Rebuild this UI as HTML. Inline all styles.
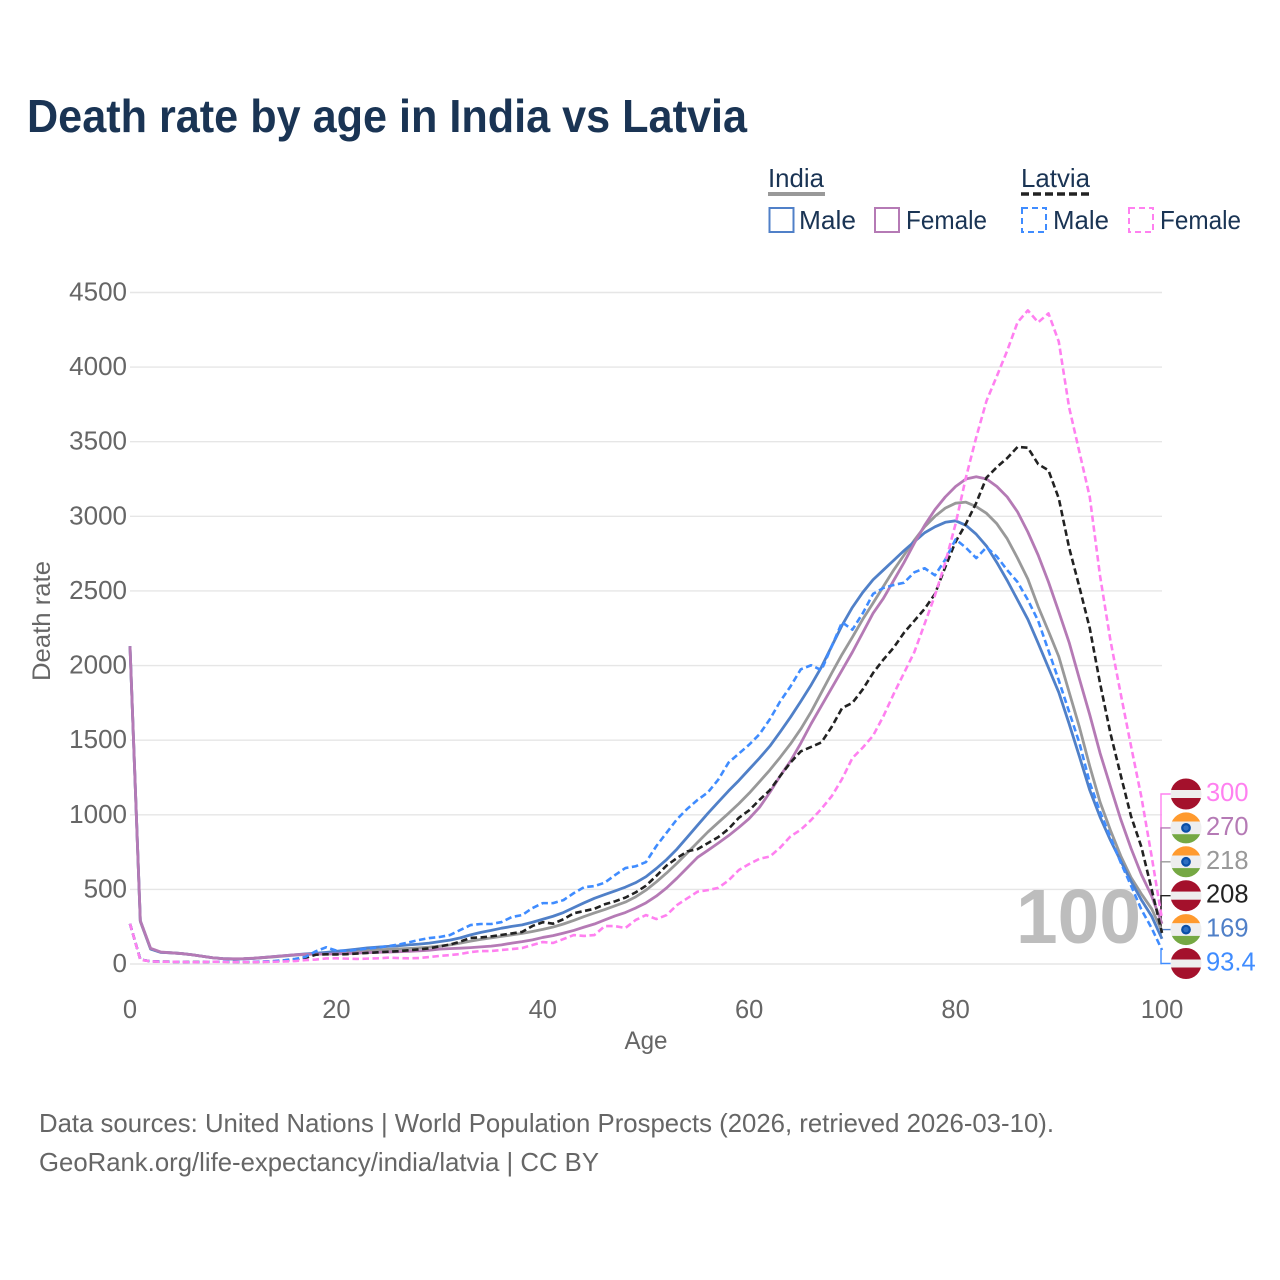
<!DOCTYPE html>
<html lang="en">
<head>
<meta charset="utf-8">
<title>Death rate by age in India vs Latvia</title>
<style>
html,body{margin:0;padding:0;background:#fff;}
svg{display:block;}
text{font-family:"Liberation Sans",sans-serif;}
</style>
</head>
<body>
<svg id="chart" xmlns="http://www.w3.org/2000/svg" width="1280" height="1280" viewBox="0 0 1280 1280">
  <defs>
    <clipPath id="flag-clip"><circle cx="0" cy="0" r="15.5"/></clipPath>
  </defs>
  <rect x="0" y="0" width="1280" height="1280" fill="#fff"/>
  <text x="27" y="132" font-size="46" font-weight="700" fill="#1a3454" textLength="720" lengthAdjust="spacingAndGlyphs">Death rate by age in India vs Latvia</text>

  <g fill="#1a3454" font-size="26">
    <text x="768" y="187" textLength="56" lengthAdjust="spacingAndGlyphs">India</text>
    <line x1="768" x2="825" y1="194" y2="194" stroke="#999" stroke-width="4"/>
    <text x="1021" y="187" textLength="69" lengthAdjust="spacingAndGlyphs">Latvia</text>
    <line x1="1021" x2="1090" y1="194" y2="194" stroke="#222" stroke-width="3.5" stroke-dasharray="8 4"/>
    <rect x="769.5" y="208" width="24" height="24" fill="none" stroke="#5080c8" stroke-width="2"/>
    <text x="799" y="229" textLength="57" lengthAdjust="spacingAndGlyphs">Male</text>
    <rect x="875" y="208" width="24" height="24" fill="none" stroke="#b57ab5" stroke-width="2"/>
    <text x="906" y="229" textLength="81" lengthAdjust="spacingAndGlyphs">Female</text>
    <rect x="1022" y="208" width="24" height="24" fill="none" stroke="#3f8cff" stroke-width="2" stroke-dasharray="6 4"/>
    <text x="1053" y="229" textLength="56" lengthAdjust="spacingAndGlyphs">Male</text>
    <rect x="1129" y="208" width="24" height="24" fill="none" stroke="#ff80f0" stroke-width="2" stroke-dasharray="6 4"/>
    <text x="1160" y="229" textLength="81" lengthAdjust="spacingAndGlyphs">Female</text>
  </g>

  <g id="grid"></g>
  <g id="y-ticks"></g>
  <g id="x-ticks"></g>
  <text transform="translate(50,621) rotate(-90)" text-anchor="middle" font-size="25" fill="#666" textLength="120" lengthAdjust="spacingAndGlyphs">Death rate</text>
  <text x="646" y="1049" text-anchor="middle" font-size="25" fill="#666" textLength="43" lengthAdjust="spacingAndGlyphs">Age</text>

  <text x="1016" y="943" font-size="77" font-weight="700" fill="#bdbdbd" textLength="125" lengthAdjust="spacingAndGlyphs">100</text>

  <g id="connectors"></g>
  <g id="series"></g>
  <g id="end-labels"></g>

  <text x="39" y="1132" font-size="26" fill="#666" textLength="1015" lengthAdjust="spacingAndGlyphs">Data sources: United Nations | World Population Prospects (2026, retrieved 2026-03-10).</text>
  <text x="39" y="1171" font-size="26" fill="#666" textLength="560" lengthAdjust="spacingAndGlyphs">GeoRank.org/life-expectancy/india/latvia | CC BY</text>
</svg>

<script>
var yTickValues = [0,500,1000,1500,2000,2500,3000,3500,4000,4500];
var xTickValues = [0,20,40,60,80,100];

var indiaMale = [2130,290,100,78,75,70,62,52,42,36,
34,35,38,44,50,56,62,68,72,78,
85,92,100,108,113,118,122,128,133,140,
150,160,175,195,212,225,240,252,262,280,
300,320,345,378,410,440,465,490,515,545,
585,640,700,770,850,930,1010,1085,1160,1230,
1305,1380,1460,1555,1654,1760,1870,1990,2130,2270,
2390,2490,2575,2640,2705,2770,2830,2890,2930,2960,
2970,2940,2880,2800,2690,2570,2440,2310,2150,1985,
1820,1610,1390,1165,985,830,690,555,430,320,
169];

var indiaTotal = [2130,285,100,78,75,70,62,52,42,36,
34,35,38,43,48,54,60,64,68,72,
76,81,86,91,95,98,101,104,108,113,
120,128,140,153,165,175,185,195,205,218,
232,248,268,292,318,342,365,390,415,450,
495,550,610,675,745,815,885,948,1010,1075,
1145,1222,1300,1385,1475,1575,1690,1820,1950,2075,
2190,2310,2418,2530,2640,2740,2840,2930,3000,3055,
3088,3095,3065,3020,2950,2850,2720,2580,2395,2230,
2060,1822,1587,1325,1085,897,725,580,470,370,
218];

var indiaFemale = [2130,290,105,80,75,70,62,52,42,36,
35,36,39,44,50,56,62,65,66,66,
68,70,73,76,78,80,82,85,88,92,
100,103,106,110,115,120,128,140,150,162,
178,190,207,225,247,268,295,322,345,375,
410,455,510,575,645,715,762,810,860,915,
975,1050,1150,1260,1360,1480,1610,1730,1850,1970,
2090,2220,2350,2450,2570,2690,2820,2940,3045,3130,
3200,3250,3265,3250,3200,3130,3030,2895,2740,2560,
2360,2155,1910,1670,1413,1190,970,775,600,455,
270];

var latviaTotal = [270,30,18,16,15,14,13,14,15,15,
14,14,14,15,18,23,30,42,62,65,
64,66,70,74,78,82,86,92,98,105,
118,130,150,175,178,185,195,205,215,255,
280,270,300,340,355,370,400,420,445,480,
525,590,660,710,755,770,810,850,905,980,
1030,1100,1165,1260,1350,1425,1455,1485,1590,1715,
1750,1840,1950,2040,2120,2220,2300,2380,2480,2660,
2830,2950,3090,3260,3330,3390,3465,3460,3350,3308,
3120,2790,2525,2250,1880,1547,1265,990,785,500,
208];

var latviaMale = [270,30,18,16,15,14,12,14,15,16,
14,15,15,17,20,26,34,48,85,112,
90,88,95,103,110,120,130,145,161,174,
181,194,228,261,268,268,281,315,328,375,
408,408,428,475,515,522,545,596,643,655,
683,790,880,970,1040,1100,1150,1235,1350,1410,
1470,1540,1640,1760,1860,1975,2002,1969,2130,2290,
2240,2350,2480,2520,2540,2555,2625,2652,2605,2710,
2846,2790,2720,2793,2730,2640,2560,2440,2300,2100,
1900,1690,1480,1215,1020,850,680,525,365,240,
93.4];

var latviaFemale = [270,28,18,15,15,14,12,13,15,14,
13,14,13,14,15,17,20,26,30,37,
38,36,34,36,38,42,40,38,40,47,
54,60,67,80,87,87,94,100,107,127,
147,141,167,194,188,194,254,254,241,295,
328,301,328,395,440,485,495,510,560,630,
670,705,720,780,855,900,965,1040,1125,1240,
1380,1450,1530,1660,1810,1950,2090,2280,2470,2690,
2950,3260,3530,3775,3940,4110,4300,4380,4300,4360,
4170,3730,3430,3130,2600,2170,1810,1460,1120,720,
300];

var endLabelTexts = ["300","270","218","208","169","93.4"];

var NS = "http://www.w3.org/2000/svg";
var X0 = 130, X1 = 1162, Y0 = 964, Y1 = 292.5;
function xScale(age){ return X0 + (X1 - X0) * age / 100; }
function yScale(v){ return Y0 + (Y1 - Y0) * v / 4500; }
function fmt(n){ return n.toFixed(2); }
function make(tag){ return document.createElementNS(NS, tag); }

var gridGroup = document.getElementById("grid");
var yTickGroup = document.getElementById("y-ticks");
yTickValues.forEach(function(v){
  var gl = make("line");
  
  
  gl.setAttribute("x1", X0);
  gl.setAttribute("x2", X1);
  gl.setAttribute("y1", fmt(yScale(v)));
  gl.setAttribute("y2", fmt(yScale(v)));
  gl.setAttribute("stroke", "#e6e6e6");
  gl.setAttribute("stroke-width", "1.4");
  gridGroup.appendChild(gl);
  var t = make("text");
  
  
  t.setAttribute("x", 127);
  t.setAttribute("y", fmt(yScale(v) + 8));
  t.setAttribute("text-anchor", "end");
  t.setAttribute("font-size", "26");
  t.setAttribute("fill", "#666");
  t.textContent = String(v);
  yTickGroup.appendChild(t);
});

var xTickGroup = document.getElementById("x-ticks");
xTickValues.forEach(function(v){
  var t = make("text");
  
  
  t.setAttribute("x", fmt(xScale(v)));
  t.setAttribute("y", "1018");
  t.setAttribute("text-anchor", "middle");
  t.setAttribute("font-size", "25.5");
  t.setAttribute("fill", "#666");
  t.textContent = String(v);
  xTickGroup.appendChild(t);
});

function linePath(values){
  return values.map(function(v, age){
    return (age === 0 ? "M" : "L") + fmt(xScale(age)) + " " + fmt(yScale(v));
  }).join(" ");
}

var seriesGroup = document.getElementById("series");
function addSeries(values, name, color, dash){
  var p = make("path");
  
  
  p.setAttribute("d", linePath(values));
  p.setAttribute("fill", "none");
  p.setAttribute("stroke", color);
  p.setAttribute("stroke-width", dash ? "2.6" : "2.8");
  p.setAttribute("stroke-linejoin", "round");
  if (dash) p.setAttribute("stroke-dasharray", dash);
  seriesGroup.appendChild(p);
}
addSeries(indiaTotal, "line-india-total", "#999999", null);
addSeries(indiaMale, "line-india-male", "#5080c8", null);
addSeries(indiaFemale, "line-india-female", "#b57ab5", null);
addSeries(latviaTotal, "line-latvia-total", "#222222", "6.5 3.5");
addSeries(latviaMale, "line-latvia-male", "#3f8cff", "6.5 3.5");
addSeries(latviaFemale, "line-latvia-female", "#ff80f0", "6.5 3.5");

/* End labels, top to bottom. Each row's slot is a layout position; the value comes from the series. */
var rows = [
  {vals: latviaFemale, color: "#ff80f0", flag: "latvia", slot: 0},
  {vals: indiaFemale,  color: "#b57ab5", flag: "india",  slot: 1},
  {vals: indiaTotal,   color: "#999999", flag: "india",  slot: 2},
  {vals: latviaTotal,  color: "#222222", flag: "latvia", slot: 3},
  {vals: indiaMale,    color: "#5080c8", flag: "india",  slot: 4},
  {vals: latviaMale,   color: "#3f8cff", flag: "latvia", slot: 5}
];

var connectorGroup = document.getElementById("connectors");
var endGroup = document.getElementById("end-labels");

function flagRect(parent, y, h, fill){
  var r = make("rect");
  
  
  r.setAttribute("x", -16);
  r.setAttribute("y", y);
  r.setAttribute("width", 32);
  r.setAttribute("height", h);
  r.setAttribute("fill", fill);
  parent.appendChild(r);
}

rows.forEach(function(row, i){
  var labelY = 794 + row.slot * 33.9;
  var c = make("path");
  
  
  c.setAttribute("d", "M1161 " + fmt(yScale(row.vals[100])) + " V" + fmt(labelY) + " H1172");
  c.setAttribute("fill", "none");
  c.setAttribute("stroke", row.color);
  c.setAttribute("stroke-width", "1.4");
  connectorGroup.appendChild(c);

  var g = make("g");
  
  
  g.setAttribute("transform", "translate(1186," + fmt(labelY) + ")");
  var inner = make("g");
  
  
  inner.setAttribute("clip-path", "url(#flag-clip)");
  if (row.flag === "latvia") {
    flagRect(inner, -16, 12, "#a4112c");
    flagRect(inner, -4, 8, "#eeeeee");
    flagRect(inner, 4, 12, "#a4112c");
  } else {
    flagRect(inner, -16, 9.7, "#ff9a2e");
    flagRect(inner, -6.3, 12.6, "#eeeeee");
    flagRect(inner, 6.3, 9.7, "#75a843");
    var ch = make("circle");
    
    
    ch.setAttribute("r", "3.8");
    ch.setAttribute("fill", "#2f6fc0");
    ch.setAttribute("stroke", "#0a4fa8");
    ch.setAttribute("stroke-width", "2.2");
    inner.appendChild(ch);
  }
  g.appendChild(inner);
  endGroup.appendChild(g);

  var t = make("text");
  
  
  t.setAttribute("x", "1206");
  t.setAttribute("y", fmt(labelY + 7));
  t.setAttribute("font-size", "25.5");
  t.setAttribute("fill", row.color);
  t.textContent = endLabelTexts[i];
  endGroup.appendChild(t);
});
</script>
</body>
</html>
